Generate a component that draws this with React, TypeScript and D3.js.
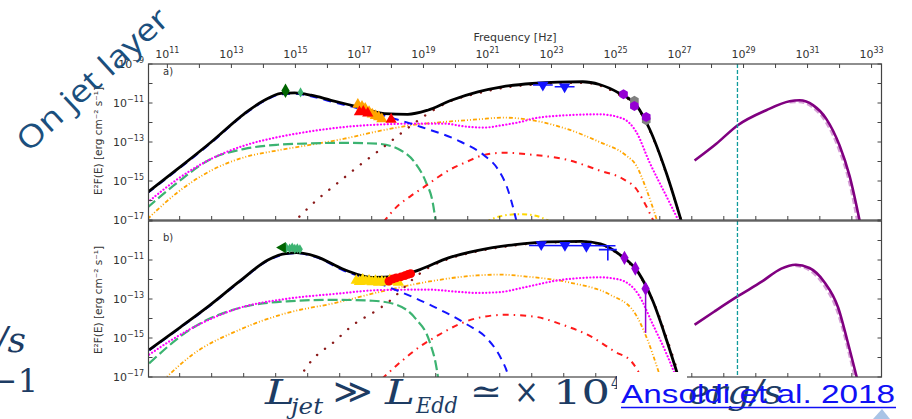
import React from 'react';
import * as d3 from 'd3';

type P = [number, number];

// ---------- axis settings (log10 values) ----------
const LOG_NU_MIN = 10.41;
const LOG_NU_MAX = 33.31;
const FREQ_TICKS = d3.range(11, 34);
const FREQ_LABELS = [11, 13, 15, 17, 19, 21, 23, 25, 27, 29, 31, 33];
const ENERGY_TICKS = d3.range(11, 33).map((k) => k + 0.3835);
const Y_TICKS = d3.range(-17, -8);
const Y_LABELS_A = [-9, -11, -13, -15, -17];
const Y_LABELS_B = [-11, -13, -15, -17];
const VLINE_NU = 28.81;

// ---------- panel a) curves [log nu, log E2F] ----------
const aTotal: P[] = [[10.38,-15.58],[11.32,-14.38],[12.37,-13.0],[13.41,-11.54],[14.03,-10.86],[14.55,-10.51],[14.97,-10.48],[15.49,-10.6],[16.11,-10.86],[16.95,-11.2],[17.78,-11.54],[18.51,-11.58],[19.13,-11.37],[19.87,-10.86],[20.7,-10.43],[21.45,-10.17],[22.4,-10.0],[23.2,-9.93],[23.98,-9.91],[24.5,-10.05],[25.13,-10.51],[25.65,-11.11],[26.06,-12.32],[26.58,-14.55],[27.1,-17.3]];
const aMagenta: P[] = [[10.38,-16.1],[11.32,-14.9],[12.37,-13.86],[13.41,-13.18],[14.45,-12.75],[15.49,-12.45],[16.53,-12.23],[17.57,-12.11],[18.62,-12.06],[19.66,-12.06],[20.28,-12.2],[20.9,-12.26],[21.45,-12.14],[22.16,-11.92],[22.42,-11.8],[23.46,-11.63],[24.5,-11.58],[25.23,-11.8],[25.65,-12.49],[26.06,-14.03],[26.58,-15.75],[27.05,-17.3]];
const aGreen: P[] = [[10.38,-16.36],[11.32,-15.07],[12.37,-13.86],[13.41,-13.35],[14.45,-13.14],[15.49,-13.07],[16.53,-13.04],[17.57,-13.09],[18.2,-13.35],[18.72,-14.03],[19.08,-15.07],[19.29,-16.1],[19.4,-17.3]];
const aOrange: P[] = [[10.38,-16.95],[11.32,-15.58],[12.37,-14.46],[13.41,-13.78],[14.45,-13.43],[15.49,-13.14],[16.53,-12.83],[17.57,-12.45],[18.62,-12.14],[19.66,-11.97],[20.7,-11.84],[21.5,-11.75],[22.42,-11.89],[23.46,-12.32],[24.5,-13.0],[25.33,-13.69],[25.65,-14.21],[25.96,-15.41],[26.35,-17.3]];
const aBlue: P[] = [[10.38,-15.62],[11.32,-14.42],[12.37,-13.04],[13.41,-11.58],[14.03,-10.9],[14.55,-10.55],[14.97,-10.52],[15.49,-10.65],[16.11,-10.92],[16.95,-11.27],[17.6,-11.55],[18.09,-11.8],[18.93,-12.23],[20.18,-13.0],[20.9,-13.69],[21.32,-14.38],[21.63,-15.41],[21.84,-16.61],[21.94,-17.3]];
const aBrown: P[] = [[14.9,-17.2],[15.65,-16.0],[16.32,-15.1],[17.0,-14.2],[17.68,-13.35],[18.35,-12.49],[19.06,-11.63],[19.8,-10.94],[20.7,-10.5],[21.5,-10.22],[22.4,-10.06],[23.2,-9.98],[24.0,-9.96],[24.5,-10.1],[25.1,-10.56],[25.65,-11.16],[26.06,-12.37],[26.58,-14.6],[27.1,-17.3]];
const aRed: P[] = [[17.75,-17.1],[18.2,-16.27],[18.62,-15.75],[19.08,-15.24],[19.45,-14.81],[19.87,-14.38],[20.33,-14.03],[20.9,-13.66],[21.5,-13.55],[22.42,-13.66],[23.46,-13.9],[24.5,-14.46],[25.23,-14.89],[25.65,-15.41],[25.9,-16.1],[26.2,-17.1]];
const aGold: P[] = [[20.95,-17.1],[21.375,-16.82],[22.0,-16.7],[22.42,-16.75],[22.98,-17.1]];
const aPurple: P[] = [[27.47,-13.95],[28.15,-13.09],[28.82,-12.14],[29.71,-11.37],[30.44,-10.91],[30.75,-10.86],[31.17,-11.11],[31.58,-11.8],[32.0,-13.18],[32.31,-14.72],[32.66,-17.3]];
const aPurpleLight: P[] = [[30.44,-10.94],[30.75,-10.92],[31.17,-11.2],[31.58,-11.95],[32.0,-13.4],[32.31,-15.0],[32.6,-17.3]];

// ---------- panel b) curves ----------
const bTotal: P[] = [[10.43,-15.61],[11.4,-14.45],[12.3,-13.35],[13.25,-12.1],[14.14,-11.0],[14.6,-10.7],[15.03,-10.62],[15.63,-10.81],[16.52,-11.49],[17.41,-11.89],[18.15,-11.84],[18.89,-11.49],[19.78,-10.89],[20.67,-10.52],[21.86,-10.21],[22.9,-10.07],[23.94,-10.04],[24.53,-10.17],[25.13,-10.72],[25.72,-11.66],[26.17,-13.12],[26.61,-15.18],[27.02,-17.3]];
const bMagenta: P[] = [[10.43,-15.85],[11.77,-14.49],[13.25,-13.46],[14.73,-12.99],[16.22,-12.74],[17.7,-12.54],[19.19,-12.52],[20.0,-12.62],[20.67,-12.69],[21.42,-12.64],[22.16,-12.4],[23.34,-12.01],[24.53,-11.89],[25.13,-12.01],[25.72,-12.78],[26.17,-14.32],[26.61,-15.87],[26.96,-17.3]];
const bGreen: P[] = [[10.43,-16.3],[11.77,-14.5],[13.25,-13.46],[14.73,-13.12],[16.22,-13.04],[17.41,-13.09],[18.15,-13.29],[18.74,-13.98],[19.19,-15.18],[19.41,-16.55],[19.48,-17.3]];
const bOrange: P[] = [[10.85,-17.2],[11.77,-15.87],[13.25,-14.58],[14.73,-13.72],[16.22,-13.21],[17.7,-12.61],[19.19,-12.1],[20.67,-11.79],[21.42,-11.75],[22.16,-11.84],[23.64,-12.18],[24.83,-12.78],[25.57,-13.64],[26.02,-15.18],[26.31,-16.55],[26.46,-17.3]];
const bBlue: P[] = [[10.43,-15.63],[11.4,-14.48],[12.3,-13.38],[13.25,-12.13],[14.14,-11.03],[14.6,-10.73],[15.03,-10.65],[15.63,-10.85],[16.52,-11.55],[17.2,-11.95],[17.85,-12.35],[19.19,-13.29],[20.375,-14.32],[20.97,-15.0],[21.42,-16.04],[21.64,-16.9],[21.7,-17.3]];
const bBrown: P[] = [[15.1,-17.1],[15.48,-16.21],[16.22,-15.18],[16.81,-14.32],[17.48,-13.64],[17.93,-13.12],[18.22,-12.69],[18.59,-12.1],[19.1,-11.45],[19.78,-10.95],[20.67,-10.56],[21.86,-10.25],[22.9,-10.1],[23.94,-10.07],[24.53,-10.2],[25.13,-10.76],[25.72,-11.72],[26.2,-13.2],[26.65,-15.25],[27.05,-17.3]];
const bRed: P[] = [[17.7,-17.1],[18.3,-16.21],[18.89,-15.44],[19.48,-14.84],[20.08,-14.32],[20.67,-13.98],[21.56,-13.81],[22.45,-13.9],[23.34,-14.32],[24.23,-14.92],[24.98,-15.7],[25.5,-16.21],[25.85,-17.1]];
const bPurple: P[] = [[27.47,-14.32],[28.09,-13.64],[28.81,-12.87],[29.58,-12.1],[30.18,-11.44],[30.62,-11.24],[31.06,-11.41],[31.51,-12.1],[31.96,-13.46],[32.25,-15.18],[32.58,-17.3]];
const bPurpleLight: P[] = [[30.62,-11.27],[31.06,-11.5],[31.51,-12.25],[31.96,-13.7],[32.25,-15.4],[32.53,-17.3]];

// ---------- data points ----------
const aDarkGreen: P[] = [[14.69,-10.37]];
const aSeaGreen: P[] = [[15.16,-10.46]];
const aOrangeTri: P[] = [[16.95,-11.08],[17.08,-11.18],[17.18,-11.28],[17.3,-11.45],[17.4,-11.58],[17.5,-11.66],[17.6,-11.72],[17.7,-11.82]];
const aRedTri: P[] = [[17.0,-11.46],[17.12,-11.44],[17.26,-11.52],[17.99,-11.84]];
const aBlueDown: P[] = [[22.73,-10.08],[23.41,-10.17]];
const aPurpleHex: P[] = [[25.25,-10.55],[25.59,-11.15],[25.96,-11.72]];
const aGrayHex: P[] = [[25.59,-10.89],[25.96,-11.89]];

const bDarkGreen: P[] = [[14.6,-10.36]];
const bSeaGreen: P[] = [[14.72,-10.38],[14.82,-10.41],[14.9,-10.36],[14.98,-10.43],[15.06,-10.4],[15.14,-10.45]];
const bGoldTri: P[] = [[16.9,-12.05],[17.0,-12.12],[17.1,-12.0],[17.2,-12.1],[17.3,-12.05],[17.4,-12.13],[17.5,-12.07],[17.6,-12.15],[17.7,-12.1],[17.8,-12.14],[17.95,-12.02],[18.1,-12.1],[18.22,-12.16]];
const bRedCircle: P[] = [[17.92,-12.08],[18.05,-11.97],[18.15,-11.92],[18.3,-11.86],[18.42,-11.8],[18.52,-11.74],[18.6,-11.7]];
const bBlueDown: P[] = [[22.68,-10.21],[23.42,-10.24],[24.09,-10.3]];
const bBlueCross: P[] = [[24.76,-10.47]];
const bPurpleDiamond: P[] = [[25.28,-10.89],[25.62,-11.44],[25.94,-12.47]];
const bPurpleLimit: P[] = [[25.94,-12.47],[25.94,-14.74]];

// ---------- geometry ----------
const X_LEFT = 148.5;
const X_RIGHT = 881.5;
const PANELS = [
  { top: 64, bottom: 220, label: 'a)' },
  { top: 221, bottom: 377, label: 'b)' },
];

const x = d3.scaleLog().domain([10 ** LOG_NU_MIN, 10 ** LOG_NU_MAX]).range([X_LEFT, X_RIGHT]);
const xs = (v: number) => x(10 ** v);

type Style = { stroke: string; width: number; dash?: string; cap?: string; opacity?: number };
const ST: Record<string, Style> = {
  total: { stroke: '#000', width: 2.8 },
  magenta: { stroke: '#ff00ff', width: 2.2, dash: '0.1 3.3', cap: 'round' },
  green: { stroke: '#3cb371', width: 2.2, dash: '10 4' },
  orange: { stroke: '#ffa500', width: 1.8, dash: '4 2 1 2 1 2' },
  blue: { stroke: '#1414ff', width: 2, dash: '8 6' },
  brown: { stroke: '#8b1a1a', width: 2.4, dash: '0.1 10', cap: 'round' },
  red: { stroke: '#ff1a1a', width: 2, dash: '6 5 1.5 5' },
  gold: { stroke: '#ffd700', width: 2, dash: '5 3 1.5 3' },
  purple: { stroke: '#800080', width: 2.6 },
  purpleLight: { stroke: '#cf8fcf', width: 3.5, dash: '6 3', opacity: 0.85 },
};

const PANEL_CURVES: [P[], string][][] = [
  [[aOrange,'orange'],[aGreen,'green'],[aMagenta,'magenta'],[aRed,'red'],[aGold,'gold'],[aBlue,'blue'],[aBrown,'brown'],[aTotal,'total'],[aPurpleLight,'purpleLight'],[aPurple,'purple']],
  [[bOrange,'orange'],[bGreen,'green'],[bMagenta,'magenta'],[bRed,'red'],[bBlue,'blue'],[bBrown,'brown'],[bTotal,'total'],[bPurpleLight,'purpleLight'],[bPurple,'purple']],
];

const FONT = 'DejaVu Sans, sans-serif';
const AX = '#444';
const TXT = '#333';

function hexPath(r: number) {
  const pts = d3.range(6).map((i) => {
    const a = (Math.PI / 3) * i + Math.PI / 6;
    return [r * Math.cos(a), r * Math.sin(a)];
  });
  return 'M' + pts.map((p) => p.join(',')).join('L') + 'Z';
}

function Panel({ idx }: { idx: number }) {
  const { top, bottom, label } = PANELS[idx];
  const y = d3.scaleLog().domain([1e-17, 1e-9]).range([bottom, top]);
  const ys = (v: number) => y(10 ** v);
  const line = d3.line<P>().x((d) => xs(d[0])).y((d) => ys(d[1])).curve(d3.curveMonotoneX);
  const sym = (type: d3.SymbolType, size: number) => d3.symbol().type(type).size(size)() || '';
  const diamond = sym(d3.symbolDiamond, 60);
  const smallDiamond = sym(d3.symbolDiamond, 30);
  const tri = sym(d3.symbolTriangle, 55);
  const circ = sym(d3.symbolCircle, 60);
  const hex = hexPath(5);
  const clipId = `clip${idx}`;
  const place = (d: P) => `translate(${xs(d[0])},${ys(d[1])})`;
  const yLabels = idx === 0 ? Y_LABELS_A : Y_LABELS_B;
  return (
    <g>
      <defs>
        <clipPath id={clipId}>
          <rect x={X_LEFT} y={top} width={X_RIGHT - X_LEFT} height={bottom - top} />
        </clipPath>
      </defs>
      <g clipPath={`url(#${clipId})`}>
        {PANEL_CURVES[idx].map(([data, k], i) => {
          const s = ST[k];
          return (
            <path key={i} d={line(data) || ''} fill="none" stroke={s.stroke} strokeWidth={s.width}
              strokeDasharray={s.dash} strokeLinecap={(s.cap as any) || 'butt'} strokeOpacity={s.opacity ?? 1} />
          );
        })}
        {idx === 0 ? (
          <g>
            {aBlueDown.map((d, i) => (
              <g key={'bd' + i}>
                <line x1={xs(d[0] - 0.31)} x2={xs(d[0] + 0.31)} y1={ys(d[1])} y2={ys(d[1])} stroke="#1414ff" strokeWidth={1.5} />
                <path d={tri} transform={place(d) + ' rotate(180)'} fill="#1414ff" />
              </g>
            ))}
            {aOrangeTri.map((d, i) => <path key={'ot' + i} d={tri} transform={place(d)} fill="#ffa500" />)}
            {aRedTri.map((d, i) => <path key={'rt' + i} d={tri} transform={place(d)} fill="#ff0000" />)}
            {aDarkGreen.map((d, i) => <path key={'dg' + i} d={diamond} transform={place(d)} fill="#006400" />)}
            {aSeaGreen.map((d, i) => <path key={'sg' + i} d={smallDiamond} transform={place(d)} fill="#3cb371" />)}
            {aGrayHex.map((d, i) => <path key={'gh' + i} d={hex} transform={place(d)} fill="#808080" />)}
            {aPurpleHex.map((d, i) => <path key={'ph' + i} d={hex} transform={place(d)} fill="#9400d3" />)}
          </g>
        ) : (
          <g>
            <line x1={xs(22.3)} x2={xs(25.0)} y1={ys(-10.25)} y2={ys(-10.27)} stroke="#1414ff" strokeWidth={1.5} />
            {bBlueDown.map((d, i) => <path key={'bd' + i} d={tri} transform={place(d) + ' rotate(180)'} fill="#1414ff" />)}
            {bBlueCross.map((d, i) => (
              <g key={'bc' + i} stroke="#1414ff" strokeWidth={1.6}>
                <line x1={xs(d[0] - 0.28)} x2={xs(d[0] + 0.28)} y1={ys(d[1])} y2={ys(d[1])} />
                <line x1={xs(d[0])} x2={xs(d[0])} y1={ys(d[1] + 0.2)} y2={ys(d[1] - 0.55)} />
              </g>
            ))}
            {bGoldTri.map((d, i) => <path key={'gt' + i} d={tri} transform={place(d)} fill="#ffd700" />)}
            {bRedCircle.map((d, i) => <path key={'rc' + i} d={circ} transform={place(d)} fill="#ff0000" />)}
            {bSeaGreen.map((d, i) => <path key={'sg' + i} d={smallDiamond} transform={place(d)} fill="#3cb371" />)}
            {bDarkGreen.map((d, i) => <path key={'dg' + i} d={tri} transform={place(d) + ' rotate(-90)'} fill="#006400" />)}
            <line x1={xs(bPurpleLimit[0][0])} x2={xs(bPurpleLimit[1][0])} y1={ys(bPurpleLimit[0][1])} y2={ys(bPurpleLimit[1][1])} stroke="#9400d3" strokeWidth={1.5} />
            {bPurpleDiamond.map((d, i) => <path key={'pd' + i} d={diamond} transform={place(d)} fill="#9400d3" />)}
          </g>
        )}
      </g>
      {/* vertical reference line */}
      <line x1={xs(VLINE_NU)} x2={xs(VLINE_NU)} y1={top} y2={bottom} stroke="#0f9b9b" strokeWidth={1.3} strokeDasharray="4 2" />
      {/* frame */}
      <rect x={X_LEFT} y={top} width={X_RIGHT - X_LEFT} height={bottom - top} fill="none" stroke={AX} strokeWidth={1.2} />
      {/* y ticks */}
      {Y_TICKS.map((t) => (
        <g key={'yt' + t}>
          <line x1={X_LEFT} x2={X_LEFT + 4} y1={ys(t)} y2={ys(t)} stroke={AX} />
          <line x1={X_RIGHT - 4} x2={X_RIGHT} y1={ys(t)} y2={ys(t)} stroke={AX} />
        </g>
      ))}
      {yLabels.map((t) => (
        <text key={'yl' + t} x={144} y={ys(t) + 4} textAnchor="end" fontSize={11} fill={TXT} fontFamily={FONT}>
          <tspan>10</tspan>
          <tspan dy={-5} fontSize={8}>{'\u2212' + Math.abs(t)}</tspan>
        </text>
      ))}
      {/* top frequency ticks for panel a */}
      {idx === 0 &&
        FREQ_TICKS.map((t) => <line key={'ft' + t} x1={xs(t)} x2={xs(t)} y1={top} y2={top + 4} stroke={AX} />)}
      {/* bottom energy ticks */}
      {ENERGY_TICKS.map((t) => (
        <line key={'et' + t} x1={xs(t)} x2={xs(t)} y1={bottom} y2={bottom - 4} stroke={AX} />
      ))}
      <text x={163} y={label === 'a)' ? 75 : 241} fontSize={10} fill={TXT} fontFamily={FONT}>{label}</text>
      <text transform={`translate(102,${idx === 0 ? 141 : 300}) rotate(-90)`} textAnchor="middle" fontSize={10.5} fill={TXT} fontFamily={FONT}>
        {'E\u00B2F(E) [erg cm\u207B\u00B2 s\u207B\u00B9]'}
      </text>
    </g>
  );
}

export default function App() {
  const SERIF = 'DejaVu Serif, serif';
  const NAVY = '#1d3c63';
  return (
    <svg width={912} height={419} style={{ position: 'absolute', left: 0, top: 0, background: '#fff' }}>
      <rect width={912} height={419} fill="#fff" />
      {/* top frequency axis labels */}
      {FREQ_LABELS.map((t) => (
        <text key={'fl' + t} x={xs(t)} y={58} textAnchor="middle" fontSize={11} fill={TXT} fontFamily={FONT}>
          <tspan>10</tspan>
          <tspan dy={-5} fontSize={8}>{t}</tspan>
        </text>
      ))}
      <text x={515} y={41} textAnchor="middle" fontSize={11} fill={TXT} fontFamily={FONT}>Frequency [Hz]</text>
      <Panel idx={0} />
      <Panel idx={1} />

      {/* slide overlays */}
      <text transform="translate(93,80) rotate(-42.7)" x={0} y={10} textAnchor="middle" fontSize={31}
        fill="#1b4f7d" fontFamily="Open Sans, sans-serif" textLength={194} lengthAdjust="spacingAndGlyphs">On jet layer</text>
      <text x={26} y={352} textAnchor="end" fontSize={36} fontStyle="italic" fill={NAVY} fontFamily={SERIF}>/s</text>
      <text x={38} y={392} textAnchor="end" fontSize={32} fill={NAVY} fontFamily={SERIF}>{'\u22121'}</text>

      <g fill={NAVY} fontFamily={SERIF}>
        <text x={265} y={404} fontSize={34} fontStyle="italic" textLength={30} lengthAdjust="spacingAndGlyphs">L</text>
        <text x={291} y={414} fontSize={23} fontStyle="italic" textLength={32} lengthAdjust="spacingAndGlyphs">jet</text>
        <text x={333} y={403} fontSize={34} textLength={40} lengthAdjust="spacingAndGlyphs">{'\u226B'}</text>
        <text x={385} y={404} fontSize={34} fontStyle="italic" textLength={30} lengthAdjust="spacingAndGlyphs">L</text>
        <text x={416} y={413} fontSize={23} fontStyle="italic" textLength={42} lengthAdjust="spacingAndGlyphs">Edd</text>
        <text x={470} y={403} fontSize={34} textLength={32} lengthAdjust="spacingAndGlyphs">{'\u2243'}</text>
        <text x={514} y={403} fontSize={34} textLength={25} lengthAdjust="spacingAndGlyphs">{'\u00D7'}</text>
        <text x={553} y={404} fontSize={34} textLength={57} lengthAdjust="spacingAndGlyphs">10</text>
        <text x={611} y={389} fontSize={16} textLength={18} lengthAdjust="spacingAndGlyphs">47</text>
      </g>
      <rect x={617} y={372} width={70} height={47} fill="#fff" />
      <text x={688} y={404} fontSize={34} fontStyle="italic" fill={NAVY} fontFamily={SERIF} textLength={94} lengthAdjust="spacingAndGlyphs">erg/s</text>
      <text x={621} y={403} fontSize={25} fill="#1010f5" fontFamily="Liberation Sans, Arial, sans-serif"
        textLength={274} lengthAdjust="spacingAndGlyphs">Ansoldi et al. 2018</text>
      <line x1={621} x2={896} y1={407.5} y2={407.5} stroke="#1010f5" strokeWidth={1.6} />
      <polygon points="873,419 882,409 890,419" fill="#a9c4e6" />
    </svg>
  );
}
